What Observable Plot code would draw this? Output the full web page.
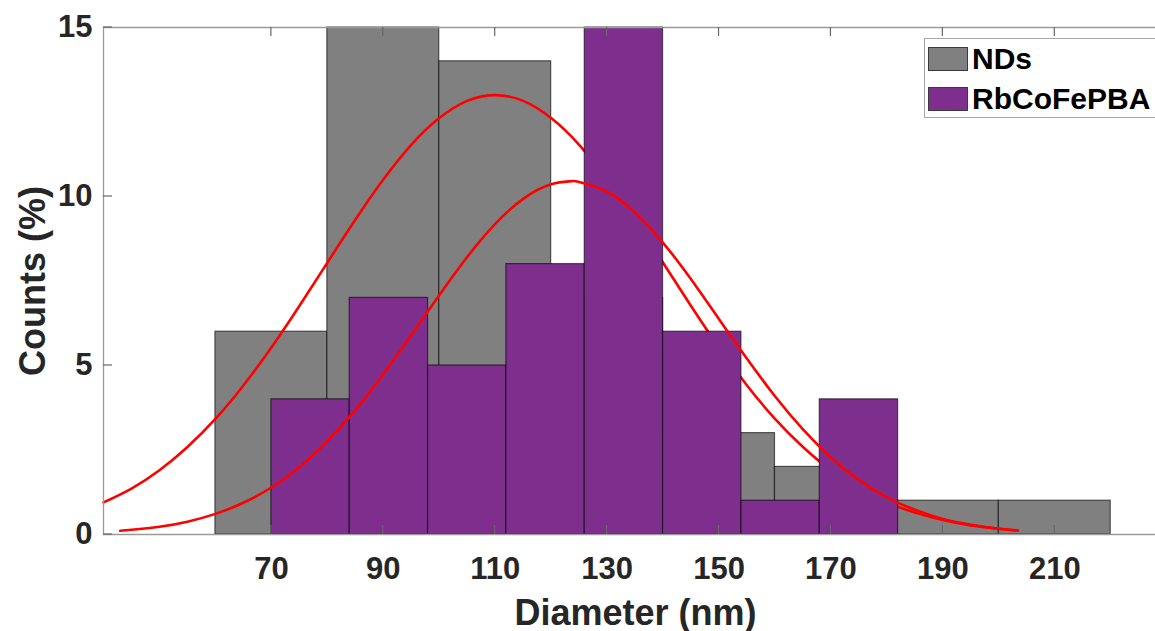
<!DOCTYPE html>
<html>
<head>
<meta charset="utf-8">
<script src="https://cdn.jsdelivr.net/npm/d3@7"></script>
<script src="https://cdn.jsdelivr.net/npm/@observablehq/plot@0.6"></script>
<style>
  body { margin: 0; background: #fff; }
  #wrap { position: relative; width: 1155px; height: 631px; font-family: "Liberation Sans", Arial, sans-serif; }
  .legend { position: absolute; left: 924px; top: 38px; width: 231px; height: 80px; border: 1px solid #a6a6a6; border-right: none; box-sizing: border-box; background: #fff; }
  .item { position: absolute; left: 3px; height: 26px; display: flex; align-items: center; }
  .sw { width: 40px; height: 24px; box-sizing: border-box; border: 1px solid #3a3a3a; margin-right: 4px; }
  .lab { font-size: 30px; font-weight: bold; color: #000; line-height: 26px; }
</style>
</head>
<body>
<div id="wrap"></div>
<script>
// ---- data ----
const seriesNames = ["NDs", "RbCoFePBA"];
const seriesColors = ["#808080", "#7e2f8e"];

const ndsEdges  = [60, 80, 100, 120, 140, 160, 180, 200, 220];
const ndsCounts = [6, 15, 14, 7, 3, 2, 1, 1];

const pbaEdges  = [70, 84, 98, 112, 126, 140, 154, 168, 182];
const pbaCounts = [4, 7, 5, 8, 15, 6, 1, 4];

// fitted curves (red)
const fitNdsX = [40, 45, 50, 55, 60, 65, 70, 75, 80, 85, 90, 95, 100, 105, 110, 115, 120, 125, 130, 135, 140, 145, 150, 155, 160, 165, 170, 175, 180, 185, 190, 195, 200, 203.4];
const fitNdsY = [0.95, 1.36, 1.90, 2.59, 3.42, 4.41, 5.53, 6.76, 8.04, 9.31, 10.50, 11.53, 12.32, 12.83, 13.00, 12.83, 12.32, 11.53, 10.50, 9.31, 8.04, 6.76, 5.53, 4.41, 3.42, 2.59, 1.90, 1.36, 0.95, 0.65, 0.43, 0.27, 0.17, 0.12];

const fitPbaX = [43, 45, 50, 55, 60, 65, 70, 75, 80, 85, 90, 95, 100, 105, 110, 115, 120, 123.5, 125, 130, 135, 140, 145, 150, 155, 160, 165, 170, 175, 180, 185, 190, 195, 200, 203.4];
const fitPbaY = [0.11, 0.14, 0.23, 0.38, 0.61, 0.94, 1.39, 1.99, 2.76, 3.68, 4.74, 5.90, 7.08, 8.21, 9.19, 9.93, 10.36, 10.45, 10.43, 10.14, 9.52, 8.63, 7.55, 6.37, 5.20, 4.09, 3.11, 2.28, 1.61, 1.10, 0.73, 0.46, 0.29, 0.17, 0.12];

const xTicks = [70, 90, 110, 130, 150, 170, 190, 210];
const yTicks = [0, 5, 10, 15];
const xLabel = "Diameter (nm)";
const yLabel = "Counts (%)";

// ---- tables ----
const ndsBars = ndsCounts.map((c, i) => ({x1: ndsEdges[i], x2: ndsEdges[i + 1], y: c}));
const pbaBars = pbaCounts.map((c, i) => ({x1: pbaEdges[i], x2: pbaEdges[i + 1], y: c}));
const fitNds = fitNdsX.map((x, i) => ({x, y: fitNdsY[i]}));
const fitPba = fitPbaX.map((x, i) => ({x, y: fitPbaY[i]}));

const frameColor = "#9a9a9a";
const tickColor = "#666";

function innerTicks(index, scales, values, dims) {
  const {x, y} = scales;
  const top = dims.marginTop, bot = dims.height - dims.marginBottom, left = dims.marginLeft;
  const g = d3.create("svg:g").attr("stroke", tickColor).attr("stroke-width", 1.2);
  for (const t of xTicks) {
    const px = x(t);
    g.append("line").attr("x1", px).attr("x2", px).attr("y1", bot).attr("y2", bot - 9);
    g.append("line").attr("x1", px).attr("x2", px).attr("y1", top).attr("y2", top + 9);
  }
  for (const t of yTicks) {
    const py = y(t);
    g.append("line").attr("x1", left).attr("x2", left + 9).attr("y1", py).attr("y2", py);
  }
  return g.node();
}

const chart = Plot.plot({
  width: 1155,
  height: 631,
  marginLeft: 103,
  marginRight: 0,
  marginTop: 27,
  marginBottom: 97,
  style: {fontFamily: '"Liberation Sans", Arial, sans-serif', fontSize: "31px", fontWeight: "bold", color: "#262626", background: "#fff", overflow: "visible"},
  x: {domain: [40, 228], ticks: xTicks, tickSize: 0, tickPadding: 22, label: null},
  y: {domain: [0, 15], ticks: yTicks, tickSize: 0, tickPadding: 11, label: null},
  marks: [
    Plot.rect(ndsBars, {x1: "x1", x2: "x2", y1: 0, y2: "y", fill: seriesColors[0], stroke: "#000", strokeOpacity: 0.6, strokeWidth: 1.2}),
    Plot.line(fitNds, {x: "x", y: "y", stroke: "#ff0000", strokeWidth: 2.6, curve: "natural"}),
    Plot.rect(pbaBars, {x1: "x1", x2: "x2", y1: 0, y2: "y", fill: seriesColors[1], stroke: "#000", strokeOpacity: 0.6, strokeWidth: 1.2}),
    Plot.line(fitPba, {x: "x", y: "y", stroke: "#ff0000", strokeWidth: 2.6, curve: "natural"}),
    Plot.ruleY([0, 15], {stroke: frameColor, strokeWidth: 1.3}),
    Plot.ruleX([40], {stroke: frameColor, strokeWidth: 1.3}),
    innerTicks,
    Plot.text([xLabel], {text: d => d, frameAnchor: "bottom", textAnchor: "middle", lineAnchor: "bottom", dx: 6, dy: 90, fontSize: 36, fontWeight: "bold", fill: "#262626"}),
    Plot.text([yLabel], {text: d => d, frameAnchor: "left", textAnchor: "middle", lineAnchor: "middle", dx: -70, rotate: -90, fontSize: 36, fontWeight: "bold", fill: "#262626"})
  ]
});

const wrap = document.getElementById("wrap");
wrap.appendChild(chart);

const legend = document.createElement("div");
legend.className = "legend";
seriesNames.forEach((name, i) => {
  const item = document.createElement("div");
  item.className = "item";
  item.style.top = (7 + i * 40) + "px";
  const sw = document.createElement("div");
  sw.className = "sw";
  sw.style.background = seriesColors[i];
  const lab = document.createElement("span");
  lab.className = "lab";
  lab.textContent = name;
  item.appendChild(sw);
  item.appendChild(lab);
  legend.appendChild(item);
});
wrap.appendChild(legend);
</script>
</body>
</html>
